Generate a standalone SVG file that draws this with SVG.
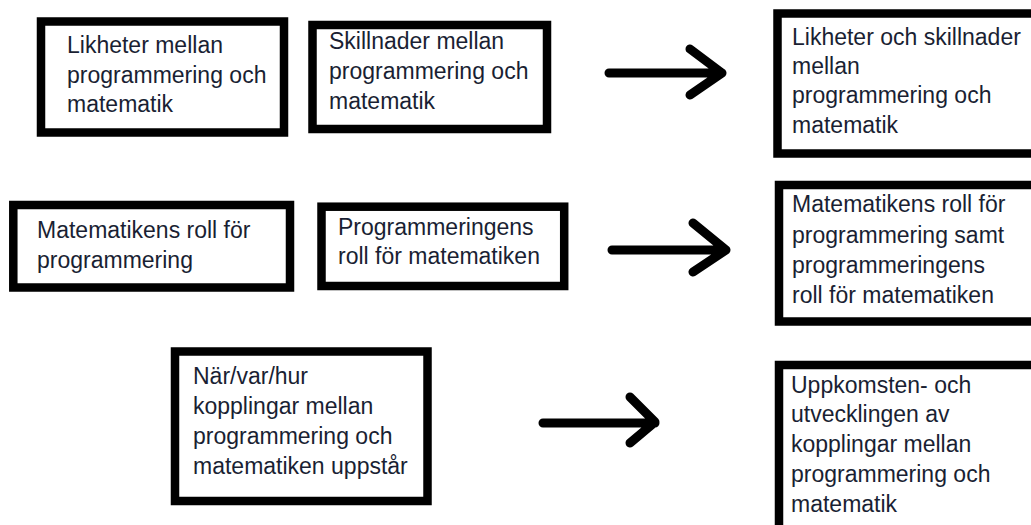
<svg xmlns="http://www.w3.org/2000/svg" width="1031" height="525" viewBox="0 0 1031 525">
  <style>
    .box { fill: #ffffff; stroke: #000000; stroke-width: 8.5; }
    .lbl { font-family: "Liberation Sans", Arial, sans-serif; font-size: 23px; fill: #1a1f33; }
    .arr { fill: none; stroke: #000000; stroke-width: 9; stroke-linecap: round; stroke-linejoin: round; }
  </style>
  <rect x="0" y="0" width="1031" height="525" fill="#ffffff"/>
  <g id="node-likheter">
    <rect class="box" x="41" y="21.5" width="243" height="111"/>
    <text class="lbl" x="67" y="53">Likheter mellan</text>
    <text class="lbl" x="67" y="83">programmering och</text>
    <text class="lbl" x="67" y="112">matematik</text>
  </g>
  <g id="node-skillnader">
    <rect class="box" x="312.5" y="25" width="234.5" height="104"/>
    <text class="lbl" x="329" y="49">Skillnader mellan</text>
    <text class="lbl" x="329" y="79">programmering och</text>
    <text class="lbl" x="329" y="109">matematik</text>
  </g>
  <g id="node-likheter-och-skillnader">
    <rect class="box" x="777.5" y="13.5" width="270" height="140"/>
    <text class="lbl" x="792" y="45">Likheter och skillnader</text>
    <text class="lbl" x="792" y="74">mellan</text>
    <text class="lbl" x="792" y="103">programmering och</text>
    <text class="lbl" x="792" y="133">matematik</text>
  </g>
  <g id="node-matematikens-roll">
    <rect class="box" x="13.3" y="205" width="276.7" height="82.5"/>
    <text class="lbl" x="37" y="238">Matematikens roll för</text>
    <text class="lbl" x="37" y="268">programmering</text>
  </g>
  <g id="node-programmeringens-roll">
    <rect class="box" x="321.5" y="206.7" width="242.7" height="79.3"/>
    <text class="lbl" x="338" y="235">Programmeringens</text>
    <text class="lbl" x="338" y="264">roll för matematiken</text>
  </g>
  <g id="node-roll-samt">
    <rect class="box" x="779" y="185" width="270" height="136.5"/>
    <text class="lbl" x="792" y="212">Matematikens roll för</text>
    <text class="lbl" x="792" y="243">programmering samt</text>
    <text class="lbl" x="792" y="273">programmeringens</text>
    <text class="lbl" x="792" y="303">roll för matematiken</text>
  </g>
  <g id="node-nar-var-hur">
    <rect class="box" x="175" y="351.5" width="252.5" height="149.5"/>
    <text class="lbl" x="193" y="384">När/var/hur</text>
    <text class="lbl" x="193" y="414">kopplingar mellan</text>
    <text class="lbl" x="193" y="444">programmering och</text>
    <text class="lbl" x="193" y="474">matematiken uppstår</text>
  </g>
  <g id="node-uppkomsten">
    <rect class="box" x="779" y="365" width="270" height="165"/>
    <text class="lbl" x="791" y="393">Uppkomsten- och</text>
    <text class="lbl" x="791" y="422">utvecklingen av</text>
    <text class="lbl" x="791" y="452">kopplingar mellan</text>
    <text class="lbl" x="791" y="482">programmering och</text>
    <text class="lbl" x="791" y="512">matematik</text>
  </g>
  <g id="connectors">
    <path class="arr" d="M609 73 H722 M690 49 L722 73 L690 95"/>
    <path class="arr" d="M612 250 H726 M693 223 L726 250 L693 272"/>
    <path class="arr" d="M543 423 H655 M630 397 L655 422 L630 443"/>
  </g>
</svg>
